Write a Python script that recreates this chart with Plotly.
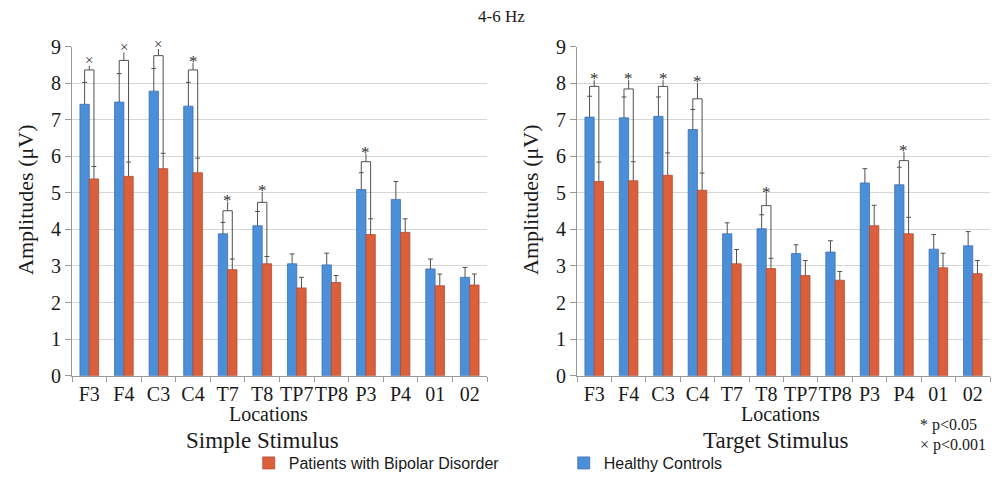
import plotly.graph_objects as go

# ---------------- data ----------------
locations = ["F3", "F4", "C3", "C4", "T7", "T8", "TP7", "TP8", "P3", "P4", "01", "02"]

# Simple stimulus
simple_hc = [7.42, 7.48, 7.78, 7.37, 3.88, 4.10, 3.06, 3.03, 5.09, 4.82, 2.92, 2.69]
simple_hc_sd = [0.60, 0.78, 0.62, 0.65, 0.31, 0.39, 0.27, 0.32, 0.46, 0.49, 0.27, 0.27]
simple_bd = [5.38, 5.45, 5.66, 5.55, 2.90, 3.06, 2.40, 2.55, 3.86, 3.92, 2.46, 2.48]
simple_bd_sd = [0.34, 0.39, 0.42, 0.40, 0.29, 0.20, 0.29, 0.19, 0.43, 0.37, 0.32, 0.30]

# Target stimulus
target_hc = [7.07, 7.05, 7.09, 6.73, 3.88, 4.02, 3.34, 3.38, 5.27, 5.22, 3.46, 3.55]
target_hc_sd = [0.57, 0.57, 0.53, 0.55, 0.30, 0.38, 0.24, 0.31, 0.39, 0.48, 0.40, 0.39]
target_bd = [5.31, 5.33, 5.48, 5.07, 3.06, 2.93, 2.74, 2.61, 4.10, 3.88, 2.95, 2.79]
target_bd_sd = [0.53, 0.52, 0.61, 0.47, 0.39, 0.28, 0.41, 0.24, 0.56, 0.45, 0.40, 0.36]

# significance brackets
simple_sig_idx = [0, 1, 2, 3, 4, 5, 8]
simple_sig_bracket = [8.36, 8.62, 8.75, 8.36, 4.51, 4.74, 5.85]
simple_sig_mark = [8.62, 8.99, 9.08, 8.70, 4.90, 5.17, 6.22]
simple_sig_type = ["×", "×", "×", "*", "*", "*", "*"]

target_sig_idx = [0, 1, 2, 3, 5, 9]
target_sig_bracket = [7.91, 7.84, 7.91, 7.57, 4.65, 5.88]
target_sig_mark = [8.23, 8.23, 8.23, 8.15, 5.13, 6.27]
target_sig_type = ["*", "*", "*", "*", "*", "*"]

# ---------------- style ----------------
BLUE = "#4a8fd8"
BLUE_EDGE = "#4070b8"
RED = "#d9603b"
RED_EDGE = "#b84a32"
ERR = "#505050"
SERIF = "Liberation Serif, Times New Roman, serif"
BARGAP = 0.46
OFF = (1 - BARGAP) / 4.0
CAP = 0.07
YMAX = 9
FIG_H = 482
ydom = [0.2205, 0.9035]
PX_PER_UNIT = (ydom[1] - ydom[0]) * FIG_H / YMAX

fig = go.Figure()

panels = [
    ("x", "y", simple_hc, simple_hc_sd, simple_bd, simple_bd_sd,
     simple_sig_idx, simple_sig_bracket, simple_sig_mark, simple_sig_type, True),
    ("x2", "y2", target_hc, target_hc_sd, target_bd, target_bd_sd,
     target_sig_idx, target_sig_bracket, target_sig_mark, target_sig_type, False),
]

shapes = []
ann = []
for xa, ya, hc, hc_sd, bd, bd_sd, sidx, sbr, smk, styp, show in panels:
    fig.add_trace(go.Bar(x=locations, y=hc, name="Healthy Controls", xaxis=xa, yaxis=ya,
                         marker=dict(color=BLUE, line=dict(color=BLUE_EDGE, width=0.8)),
                         showlegend=show, legendgroup="hc", offsetgroup="hc"))
    fig.add_trace(go.Bar(x=locations, y=bd, name="Patients with Bipolar Disorder", xaxis=xa, yaxis=ya,
                         marker=dict(color=RED, line=dict(color=RED_EDGE, width=0.8)),
                         showlegend=show, legendgroup="bd", offsetgroup="bd"))
    line = dict(color=ERR, width=1)
    # error bars (upper only)
    for i in range(len(locations)):
        for cx, v, sd in ((i - OFF, hc[i], hc_sd[i]), (i + OFF, bd[i], bd_sd[i])):
            top = v + sd
            shapes.append(dict(type="line", xref=xa, yref=ya, x0=cx, x1=cx, y0=v, y1=top, line=line))
            shapes.append(dict(type="line", xref=xa, yref=ya, x0=cx - CAP, x1=cx + CAP, y0=top, y1=top, line=line))
    # brackets
    for k, i in enumerate(sidx):
        lt = hc[i] + hc_sd[i]
        rt = bd[i] + bd_sd[i]
        b = sbr[k]
        shapes.append(dict(type="line", xref=xa, yref=ya, x0=i - OFF, x1=i - OFF, y0=lt, y1=b, line=line))
        shapes.append(dict(type="line", xref=xa, yref=ya, x0=i - OFF, x1=i + OFF, y0=b, y1=b, line=line))
        shapes.append(dict(type="line", xref=xa, yref=ya, x0=i + OFF, x1=i + OFF, y0=b, y1=rt, line=line))
        shapes.append(dict(type="line", xref=xa, yref=ya, x0=i, x1=i, y0=b, y1=smk[k] - 0.15, line=line))
        # significance marker (annotations beyond the axis range are hidden,
        # so anchor inside the range and shift by the overflow in pixels)
        is_star = styp[k] == "*"
        y_in = min(smk[k], YMAX)
        shift = (smk[k] - y_in) * PX_PER_UNIT + (-4 if is_star else 0)
        ann.append(dict(text=styp[k], xref=xa, yref=ya, x=locations[i], y=y_in,
                        xanchor="center", yanchor="middle", showarrow=False,
                        yshift=shift,
                        font=dict(family=SERIF, size=17 if is_star else 15, color="#333")))

xcommon = dict(type="category", tickson="boundaries", ticks="outside", ticklen=5,
               tickcolor="#999", showline=True, linecolor="#999", linewidth=1,
               showgrid=False, tickangle=0, automargin=False,
               tickfont=dict(family=SERIF, size=20, color="#1a1a1a"),
               range=[-0.5, 11.5])
ycommon = dict(range=[0, YMAX], dtick=1, ticks="outside", ticklen=6, tickcolor="#999",
               showline=True, linecolor="#999", linewidth=1, showgrid=True,
               gridcolor="#d6d6d6", gridwidth=1, zeroline=False, automargin=False,
               tickfont=dict(family=SERIF, size=20, color="#1a1a1a"), domain=ydom)

fig.update_layout(
    width=1003, height=FIG_H, margin=dict(l=0, r=0, t=0, b=0),
    paper_bgcolor="white", plot_bgcolor="white",
    barmode="group", bargap=BARGAP, bargroupgap=0,
    xaxis=dict(domain=[72 / 1003, 487 / 1003], anchor="y", **xcommon),
    yaxis=dict(anchor="x", **ycommon),
    xaxis2=dict(domain=[577 / 1003, 990 / 1003], anchor="y2", **xcommon),
    yaxis2=dict(anchor="x2", **ycommon),
    shapes=shapes,
    legend=dict(orientation="h", x=0.248, xanchor="left", y=1 - 463 / FIG_H, yanchor="middle",
                traceorder="reversed", entrywidth=270, itemwidth=30,
                font=dict(family="Liberation Sans Narrow, Liberation Sans, sans-serif", size=16, color="#1a1a1a"),
                bgcolor="rgba(0,0,0,0)"),
    showlegend=True,
)

paper_ann = [
    dict(text="4-6 Hz", x=501 / 1003, y=1 - 17 / FIG_H, font=dict(size=17)),
    dict(text="Amplitudes (μV)", x=25 / 1003, y=1 - 200 / FIG_H, textangle=-90, font=dict(size=22)),
    dict(text="Amplitudes (μV)", x=530 / 1003, y=1 - 200 / FIG_H, textangle=-90, font=dict(size=22)),
    dict(text="Locations", x=268 / 1003, y=1 - 414 / FIG_H, font=dict(size=20)),
    dict(text="Locations", x=780 / 1003, y=1 - 414 / FIG_H, font=dict(size=20)),
    dict(text="Simple Stimulus", x=262 / 1003, y=1 - 440 / FIG_H, font=dict(size=23)),
    dict(text="Target Stimulus", x=776 / 1003, y=1 - 440 / FIG_H, font=dict(size=23)),
    dict(text="* p<0.05", x=918 / 1003, y=1 - 425 / FIG_H, xanchor="left", font=dict(size=16)),
    dict(text="× p<0.001", x=918 / 1003, y=1 - 445 / FIG_H, xanchor="left", font=dict(size=16)),
]
for a in paper_ann:
    a.setdefault("xanchor", "center")
    a["yanchor"] = "middle"
    a["xref"] = "paper"
    a["yref"] = "paper"
    a["showarrow"] = False
    a["font"] = dict(family=SERIF, color="#1a1a1a", size=a["font"]["size"])
fig.update_layout(annotations=ann + paper_ann)

fig.write_html("out.html")
